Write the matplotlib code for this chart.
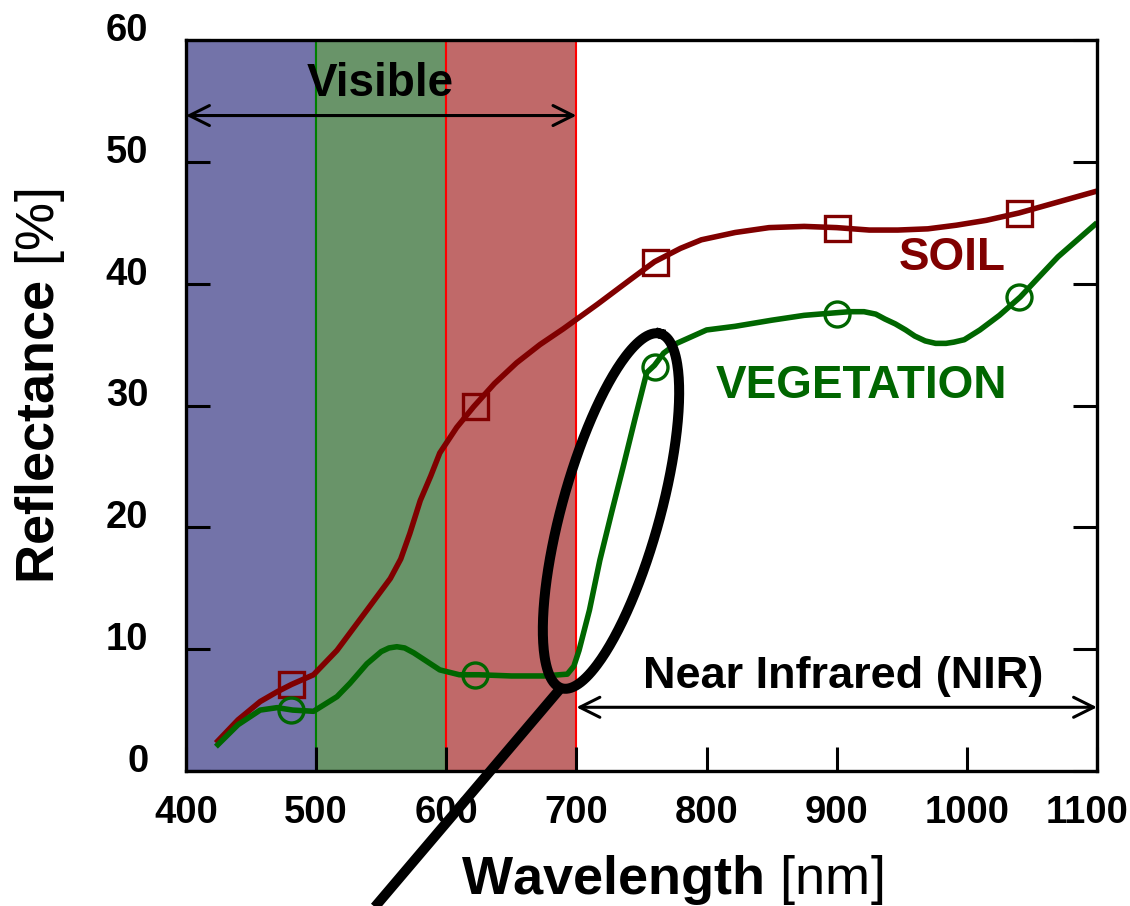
import numpy as np
import matplotlib
matplotlib.use("Agg")
import matplotlib.pyplot as plt
from matplotlib.lines import Line2D
from matplotlib.transforms import ScaledTranslation

plt.rcParams['font.family'] = ['Liberation Sans', 'DejaVu Sans']
plt.rcParams['mathtext.fontset'] = 'custom'
plt.rcParams['mathtext.rm'] = 'Liberation Sans'
plt.rcParams['mathtext.bf'] = 'Liberation Sans:bold'

# reflectance spectra [%] vs wavelength [nm]
soil_nm = [423, 440, 457, 470, 481, 498, 516, 539, 557, 565, 572, 580, 588, 595,
           608, 621, 637, 654, 672, 690, 716, 741, 760, 780, 796, 822, 848, 875, 900,
           925, 947, 970, 992, 1015, 1040, 1070, 1100]
soil_pct = [2.3, 4.2, 5.7, 6.5, 7.1, 7.9, 9.9, 13.2, 15.8, 17.4, 19.5, 22.2, 24.2, 26.1,
            28.2, 29.9, 31.8, 33.5, 35.0, 36.3, 38.3, 40.3, 41.8, 42.9, 43.6, 44.2, 44.6, 44.7, 44.6,
            44.4, 44.4, 44.5, 44.8, 45.2, 45.8, 46.7, 47.6]

veg_nm = [423, 440, 457, 470, 482, 498, 516, 526, 539, 550, 556, 562, 568, 575, 585, 595, 610,
          625, 650, 675, 693, 698, 702, 710, 718, 727, 736, 745, 754, 760, 767, 777,
          800, 822, 850, 875, 898, 910, 921, 930, 937, 945, 953, 960, 968, 976, 984, 990,
          998, 1010, 1025, 1041, 1055, 1070, 1085, 1100]
veg_pct = [2.0, 3.8, 5.0, 5.2, 5.0, 4.9, 6.1, 7.2, 8.8, 9.8, 10.1, 10.2, 10.1, 9.7, 9.0, 8.3, 7.9,
           7.9, 7.8, 7.8, 7.95, 8.6, 9.9, 13.2, 17.3, 21.2, 25.0, 28.9, 32.7, 33.3, 34.3, 35.1,
           36.2, 36.5, 37.0, 37.4, 37.6, 37.7, 37.7, 37.5, 37.1, 36.7, 36.2, 35.7, 35.3, 35.1, 35.1, 35.2,
           35.4, 36.2, 37.4, 38.9, 40.5, 42.2, 43.6, 45.0]

# marker positions along the curves
mark_nm = [481, 622, 760, 900, 1040]
soil_mark = [7.1, 30.0, 41.8, 44.6, 45.8]
veg_mark = [5.0, 7.9, 33.2, 37.5, 38.9]

# visible colour bands
band_lo = [400, 500, 600]
band_hi = [500, 600, 700]
band_fill = ['#7373A9', '#699469', '#C06969']
band_edge = ['#2020C0', '#008000', '#FF0000']

soil_col = '#800000'
veg_col = '#006600'

W, H = 1130, 906
fig = plt.figure(figsize=(W / 100, H / 100), dpi=100)
ax = fig.add_axes([186 / W, 1 - 771 / H, (1097 - 186) / W, (771 - 40) / H])

for lo, hi, fc, ec in zip(band_lo, band_hi, band_fill, band_edge):
    ax.axvspan(lo, hi, facecolor=fc, edgecolor=ec, lw=1.5, zorder=1)

ax.plot(soil_nm, soil_pct, color=soil_col, lw=4.0, zorder=3,
        solid_joinstyle='round', solid_capstyle='butt')
ax.plot(veg_nm, veg_pct, color=veg_col, lw=4.0, zorder=3,
        solid_joinstyle='round', solid_capstyle='butt')
ax.plot(mark_nm, soil_mark, ls='none', marker='s', ms=18, mfc='none',
        mec=soil_col, mew=2.4, zorder=4)
ax.plot(mark_nm, veg_mark, ls='none', marker='o', ms=18, mfc='none',
        mec=veg_col, mew=2.4, zorder=4)

ax.set_xlim(400, 1100)
ax.set_ylim(0, 60)
ax.set_xticks(range(400, 1101, 100))
ax.set_yticks(range(0, 61, 10))
ax.tick_params(direction='in', length=17, width=2.2, top=False, right=True,
               labelsize=27.5, pad=17)
ax.tick_params(axis='y', pad=27)
for lab in ax.get_xticklabels() + ax.get_yticklabels():
    lab.set_fontweight('bold')
for lab in ax.get_yticklabels():
    lab.set_transform(lab.get_transform() + ScaledTranslation(0, 0.13, fig.dpi_scale_trans))
# keep the last x label inside the figure
last = ax.get_xticklabels()[-1]
last.set_transform(last.get_transform() + ScaledTranslation(-0.10, 0, fig.dpi_scale_trans))
for sp in ax.spines.values():
    sp.set_linewidth(2.4)
    sp.set_zorder(5)

# region arrows and labels
arrow = dict(arrowstyle='<->', lw=2.2, color='black', shrinkA=0, shrinkB=0,
             mutation_scale=36)
ax.annotate('', xy=(400, 53.8), xytext=(700, 53.8), arrowprops=arrow, zorder=6)
ax.annotate('', xy=(700, 5.23), xytext=(1100, 5.23), arrowprops=arrow, zorder=6)
ax.text(549.5, 55.4, 'Visible', fontsize=33, fontweight='bold', ha='center',
        va='baseline', zorder=6)
ax.text(905, 6.8, 'Near Infrared (NIR)', fontsize=32.5, fontweight='bold',
        ha='center', va='baseline', zorder=6)
ax.text(989, 41.1, 'SOIL', fontsize=33, color=soil_col, fontweight='bold',
        ha='center', va='baseline', zorder=6)
ax.text(918.7, 30.6, 'VEGETATION', fontsize=33, color=veg_col, fontweight='bold',
        ha='center', va='baseline', zorder=6)

# axis titles: bold name, regular unit
fig.text(672.5 / W, 1 - 894 / H, r'$\mathbf{Wavelength}$ [nm]', fontsize=39,
         ha='center', va='baseline')
fig.text(54 / W, 1 - 386.5 / H, r'$\mathbf{Reflectance}$ [%]', fontsize=39,
         rotation=90, rotation_mode='anchor', ha='center', va='baseline')

# magnifier over the red edge (pixel geometry)
cx, cy, a, b, ang = 611, 511, 184, 49, np.radians(74.5)
t = np.linspace(0, 2 * np.pi, 300)
ex = cx + a * np.cos(t) * np.cos(ang) - b * np.sin(t) * np.sin(ang)
ey = (H - cy) + a * np.cos(t) * np.sin(ang) + b * np.sin(t) * np.cos(ang)
fig.add_artist(Line2D(ex / W, ey / H, color='black', lw=7.2, zorder=10))
hx = np.array([560, 368])
hy = np.array([689, 915])
fig.add_artist(Line2D(hx / W, 1 - hy / H, color='black', lw=7.2, zorder=10,
                      solid_capstyle='butt'))

fig.savefig('out.png', dpi=100)
